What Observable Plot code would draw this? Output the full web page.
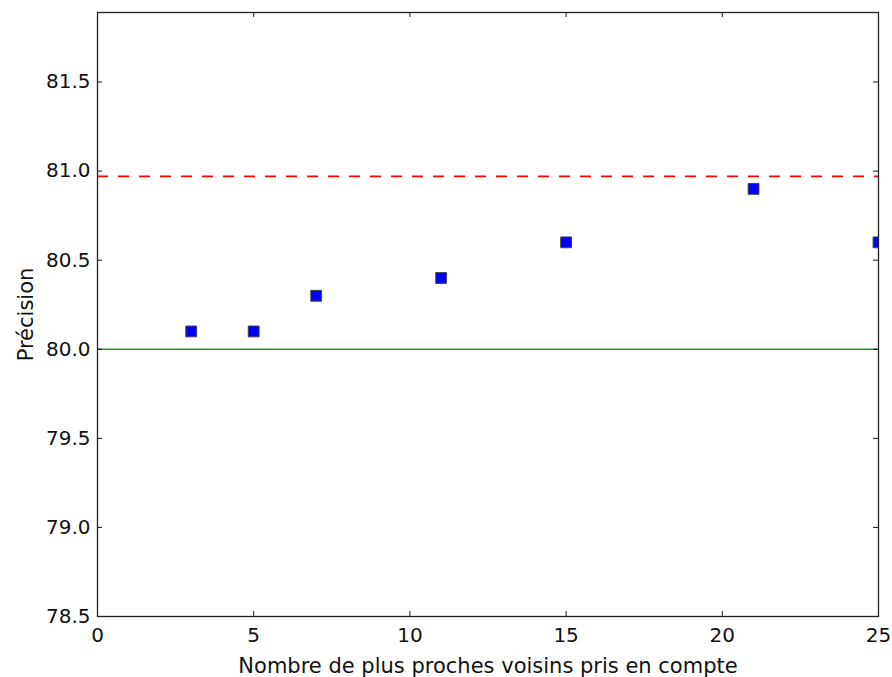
<!DOCTYPE html>
<html>
<head>
<meta charset="utf-8">
<script src="https://cdn.jsdelivr.net/npm/d3@7"></script>
<script src="https://cdn.jsdelivr.net/npm/@observablehq/plot@0.6"></script>
<style>
  html, body { margin: 0; padding: 0; background: #fff; }
</style>
</head>
<body>
<div id="chart"></div>
<script>
// Data
const neighbours = [3, 5, 7, 11, 15, 21, 25];
const precision = [80.1, 80.1, 80.3, 80.4, 80.6, 80.9, 80.6];
const baselineValue = 80.0;
const bestValue = 80.97;
const xTicks = [0, 5, 10, 15, 20, 25];
const yTicks = [78.5, 79.0, 79.5, 80.0, 80.5, 81.0, 81.5];
const xLabel = "Nombre de plus proches voisins pris en compte";
const yLabel = "Précision";

const points = neighbours.map((k, i) => ({k, p: precision[i]}));

const W = 892, H = 677;
const mL = 97, mR = 14, mT = 12, mB = 61;
const innerW = W - mL - mR, innerH = H - mT - mB;
const tick = 5;

const chart = Plot.plot({
  width: W,
  height: H,
  marginLeft: mL,
  marginRight: mR,
  marginTop: mT,
  marginBottom: mB,
  style: {fontFamily: "DejaVu Sans", fontSize: "20px", background: "#fff", color: "#111"},
  x: {domain: [0, 25]},
  y: {domain: [78.5, 81.89]},
  marks: [
    Plot.ruleY([baselineValue], {stroke: "#2a942a", strokeWidth: 1.6}),
    Plot.ruleY([bestValue], {stroke: "#ff0000", strokeWidth: 1.6, strokeDasharray: "11,10"}),
    Plot.dot(points, {x: "k", y: "p", symbol: "square", r: 6.1, fill: "#0000ff", stroke: "#444", strokeWidth: 1, clip: true}),
    // inward tick marks on all four sides
    Plot.ruleX(xTicks, {x: d => d, insetTop: innerH - tick, stroke: "#111"}),
    Plot.ruleX(xTicks, {x: d => d, insetBottom: innerH - tick, stroke: "#111"}),
    Plot.ruleY(yTicks, {y: d => d, insetRight: innerW - tick, stroke: "#111"}),
    Plot.ruleY(yTicks, {y: d => d, insetLeft: innerW - tick, stroke: "#111"}),
    Plot.axisX({ticks: xTicks, tickSize: 0, tickPadding: 11, label: null, tickFormat: d3.format("d")}),
    Plot.axisY({ticks: yTicks, tickSize: 0, tickPadding: 7, label: null, tickFormat: d3.format(".1f")}),
    Plot.frame({stroke: "#222", strokeWidth: 1.3}),
    Plot.text([xLabel], {frameAnchor: "bottom", textAnchor: "middle", lineAnchor: "bottom", dy: 56, fontSize: 21, fill: "#111"}),
    Plot.text([yLabel], {frameAnchor: "left", textAnchor: "middle", lineAnchor: "bottom", rotate: -90, dx: -65, fontSize: 21, fill: "#111"})
  ]
});
document.getElementById("chart").appendChild(chart);
</script>
</body>
</html>
